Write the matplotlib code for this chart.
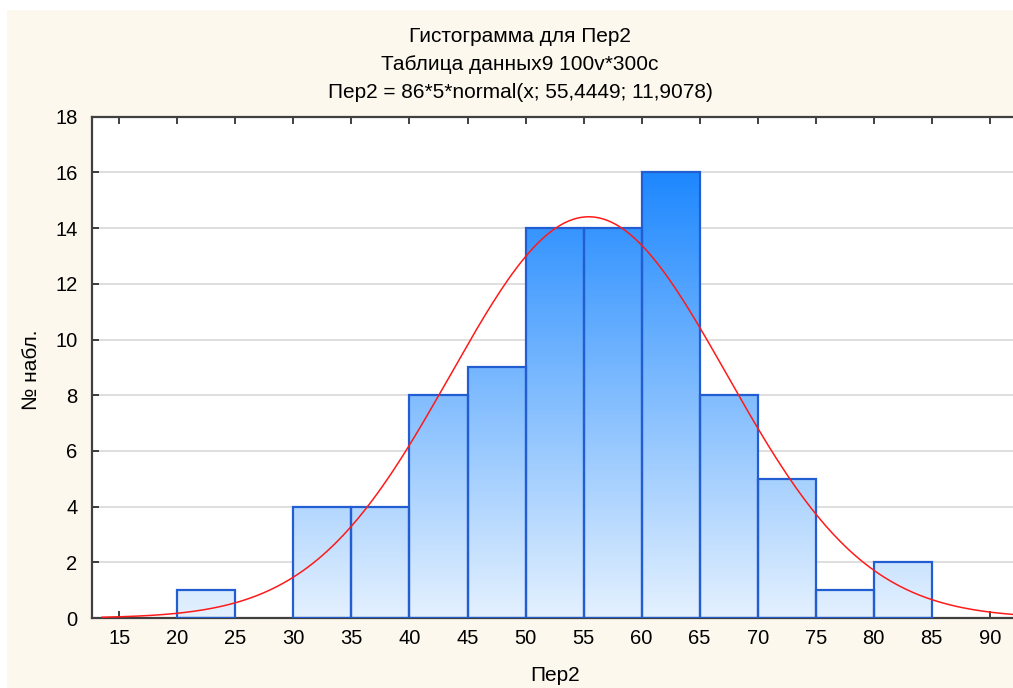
import numpy as np
import matplotlib
matplotlib.use("Agg")
import matplotlib.pyplot as plt
from matplotlib.colors import LinearSegmentedColormap

# histogram of Пер2 (bin edges and counts)
bin_edges = [20, 25, 30, 35, 40, 45, 50, 55, 60, 65, 70, 75, 80, 85]
counts = [1, 0, 4, 4, 8, 9, 14, 14, 16, 8, 5, 1, 2]
n_total = 86
bin_width = 5
mean = 55.4449
std = 11.9078

title_lines = ["Гистограмма для Пер2",
               "Таблица данных9 100v*300c",
               "Пер2 = 86*5*normal(x; 55,4449; 11,9078)"]
x_ticks = list(range(15, 95, 5))
y_ticks = list(range(0, 20, 2))

plt.rcParams['font.family'] = ['Liberation Sans', 'DejaVu Sans']

fig = plt.figure(figsize=(10.13, 6.88), dpi=100)
fig.patch.set_facecolor('white')
# cream panel behind the chart
fig.patches.append(plt.Rectangle((7/1013, 0), 1, 1 - 10/688, transform=fig.transFigure,
                                 facecolor='#fdf8ed', edgecolor='none', zorder=-5))

ax = fig.add_axes([91.5/1013, 0.1017, 0.944, 0.7287])
ax.set_facecolor('white')

cmap = LinearSegmentedColormap.from_list('bars', ['#e4f1fe', '#1e88ff'])
top_val = max(counts)
for i, c in enumerate(counts):
    if c == 0:
        continue
    x0, x1 = bin_edges[i], bin_edges[i + 1]
    grad = np.linspace(0, c / top_val, 200).reshape(-1, 1)
    ax.imshow(grad, extent=[x0, x1, 0, c], origin='lower', aspect='auto',
              cmap=cmap, vmin=0, vmax=1, zorder=2)
    ax.add_patch(plt.Rectangle((x0, 0), x1 - x0, c, facecolor='none',
                               edgecolor='#225ed2', linewidth=1.6, zorder=3))
ax.set_xlim(12.6, 95)
ax.set_ylim(0, 18)

xs = np.linspace(13.5, 95, 400)
ys = n_total * bin_width * np.exp(-0.5 * ((xs - mean) / std) ** 2) / (std * np.sqrt(2 * np.pi))
ax.plot(xs, ys, color='#ff1a1a', linewidth=1.1, zorder=4)

ax.set_xticks(x_ticks)
ax.set_yticks(y_ticks)
for y in y_ticks[1:-1]:
    ax.axhline(y, color='#d9d9d9', linewidth=1.2, zorder=1)
ax.tick_params(axis='both', direction='in', length=5, width=1.2, color='#202020',
               labelsize=14.5, top=True, pad=8)
ax.tick_params(axis='y', pad=10)
for s in ax.spines.values():
    s.set_color('#404040')
    s.set_linewidth(1.6)

ax.set_xlabel('Пер2', fontsize=15)
ax.set_ylabel('№ набл.', fontsize=15)
ax.xaxis.set_label_coords((555 - 91.5) / (0.944 * 1013), -0.095)
ax.yaxis.set_label_coords((41 - 91.5) / (0.944 * 1013), (688 - 370 - 70) / (0.7287 * 688))

for k, line in enumerate(title_lines):
    fig.text(520/1013, 1 - (36 + 28 * k)/688, line, ha='center', va='center', fontsize=15)

fig.savefig('out.png', dpi=100, facecolor=fig.get_facecolor())
